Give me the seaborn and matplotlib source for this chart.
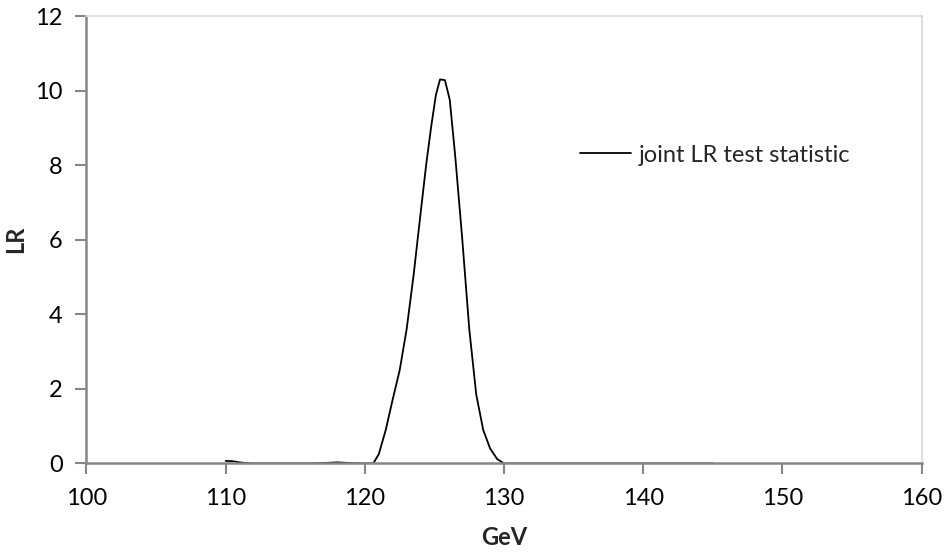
import seaborn as sns
import matplotlib.pyplot as plt
import pandas as pd

# GeV scan points and joint likelihood-ratio values
gev = [110, 110.5, 111, 111.5, 112, 113, 114, 115, 116, 117, 117.5, 118, 118.5, 119, 120,
       120.6, 121, 121.5, 122, 122.5, 123, 123.5, 124, 124.4, 124.75, 125.1, 125.4, 125.75,
       126.1, 126.5, 127, 127.5, 128, 128.5, 129, 129.5, 130,
       131, 132, 133, 134, 135, 136, 137, 138, 139, 140, 141, 142, 143, 144, 145]
lr = [0.07, 0.06, 0.03, 0.01, 0.0, 0.0, 0.0, 0.0, 0.0, 0.01, 0.02, 0.03, 0.02, 0.01, 0.0,
      0.0, 0.25, 0.9, 1.72, 2.5, 3.6, 5.05, 6.7, 8.0, 9.0, 9.88, 10.3, 10.28,
      9.75, 8.2, 6.0, 3.6, 1.85, 0.9, 0.4, 0.12, 0.0,
      0, 0, 0, 0, 0, 0, 0, 0, 0, 0, 0, 0, 0, 0, 0]

series_name = "joint LR test statistic"
x_ticks = [100, 110, 120, 130, 140, 150, 160]
y_ticks = [0, 2, 4, 6, 8, 10, 12]

df = pd.DataFrame({"GeV": gev, "LR": lr})

sns.set_style("white")
plt.rcParams['font.family'] = ['Lato', 'DejaVu Sans']

fig = plt.figure(figsize=(9.46, 5.54), dpi=100)
ax = fig.add_axes([0.0914, 0.1634, 0.9743 - 0.0914, 0.9711 - 0.1634])

sns.lineplot(data=df, x="GeV", y="LR", color="black", linewidth=1.3, label=series_name, ax=ax)

ax.set_xlim(100, 160)
ax.set_ylim(0, 12)
ax.set_xticks(x_ticks)
ax.set_yticks(y_ticks)
ax.tick_params(axis="both", labelsize=17, colors="#868686", labelcolor="black",
               length=8, width=1.5, direction="out")
ax.tick_params(axis="x", pad=10, bottom=True)
ax.tick_params(axis="y", pad=9, left=True)

for side in ["left", "bottom"]:
    ax.spines[side].set_color("#868686")
    ax.spines[side].set_linewidth(1.8)
for side in ["top", "right"]:
    ax.spines[side].set_color("#d9d9d9")
    ax.spines[side].set_linewidth(1.2)

ax.set_xlabel("GeV", fontsize=17, fontweight="bold", labelpad=12)
ax.set_ylabel("LR", fontsize=17, fontweight="bold")
ax.yaxis.set_label_coords(-0.071, 0.5)

ax.legend(loc="center left", bbox_to_anchor=(0.579, 0.689), frameon=False,
          fontsize=17, handlelength=2.2, handletextpad=0.3, borderaxespad=0)

fig.savefig("out.png", dpi=100)
